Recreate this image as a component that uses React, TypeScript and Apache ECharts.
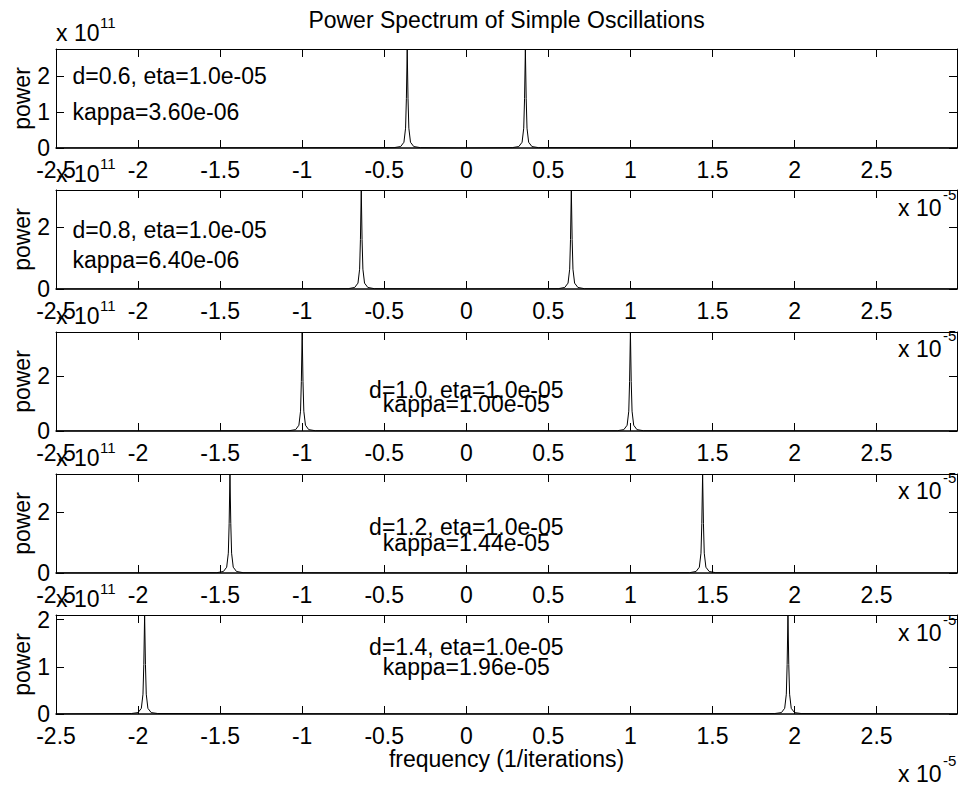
import React, { useEffect, useRef } from 'react';
import * as echarts from 'echarts';

// ---------- text content ----------
const titleText = 'Power Spectrum of Simple Oscillations';
const xLabelText = 'frequency (1/iterations)';
const yLabelText = 'power';
const dLabels = ['0.6', '0.8', '1.0', '1.2', '1.4'];
const etaLabel = '1.0e-05';
const kappaLabels = ['3.60e-06', '6.40e-06', '1.00e-05', '1.44e-05', '1.96e-05'];
const yExponent = '11';
const xExponent = '-5';

// ---------- axes ----------
const xMin = -2.5;
const xMax = 2.99;
const xInterval = 0.5;
const yMaxes = [2.75, 3.2, 3.6, 3.25, 2.1]; // x 1e11
const yIntervals = [1, 2, 2, 2, 1];

// ---------- data (frequency x 1e-5, power x 1e11) ----------
const freq1 = [-2.5, -0.44, -0.40, -0.38, -0.37, -0.365, -0.36, -0.355, -0.35, -0.34, -0.32, -0.28, 0, 0.28, 0.32, 0.34, 0.35, 0.355, 0.36, 0.365, 0.37, 0.38, 0.40, 0.44, 2.99];
const power1 = [0, 0.01, 0.04, 0.16, 0.55, 1.37, 2.75, 1.37, 0.55, 0.16, 0.04, 0.01, 0, 0.01, 0.04, 0.16, 0.55, 1.37, 2.75, 1.37, 0.55, 0.16, 0.04, 0.01, 0];

const freq2 = [-2.5, -0.72, -0.68, -0.66, -0.65, -0.645, -0.64, -0.635, -0.63, -0.62, -0.60, -0.56, 0, 0.56, 0.60, 0.62, 0.63, 0.635, 0.64, 0.645, 0.65, 0.66, 0.68, 0.72, 2.99];
const power2 = [0, 0.01, 0.05, 0.19, 0.64, 1.6, 3.2, 1.6, 0.64, 0.19, 0.05, 0.01, 0, 0.01, 0.05, 0.19, 0.64, 1.6, 3.2, 1.6, 0.64, 0.19, 0.05, 0.01, 0];

const freq3 = [-2.5, -1.08, -1.04, -1.02, -1.01, -1.005, -1.0, -0.995, -0.99, -0.98, -0.96, -0.92, 0, 0.92, 0.96, 0.98, 0.99, 0.995, 1.0, 1.005, 1.01, 1.02, 1.04, 1.08, 2.99];
const power3 = [0, 0.01, 0.05, 0.21, 0.72, 1.8, 3.6, 1.8, 0.72, 0.21, 0.05, 0.01, 0, 0.01, 0.05, 0.21, 0.72, 1.8, 3.6, 1.8, 0.72, 0.21, 0.05, 0.01, 0];

const freq4 = [-2.5, -1.52, -1.48, -1.46, -1.45, -1.445, -1.44, -1.435, -1.43, -1.42, -1.40, -1.36, 0, 1.36, 1.40, 1.42, 1.43, 1.435, 1.44, 1.445, 1.45, 1.46, 1.48, 1.52, 2.99];
const power4 = [0, 0.01, 0.05, 0.19, 0.65, 1.62, 3.25, 1.62, 0.65, 0.19, 0.05, 0.01, 0, 0.01, 0.05, 0.19, 0.65, 1.62, 3.25, 1.62, 0.65, 0.19, 0.05, 0.01, 0];

const freq5 = [-2.5, -2.04, -2.0, -1.98, -1.97, -1.965, -1.96, -1.955, -1.95, -1.94, -1.92, -1.88, 0, 1.88, 1.92, 1.94, 1.95, 1.955, 1.96, 1.965, 1.97, 1.98, 2.0, 2.04, 2.99];
const power5 = [0, 0.01, 0.03, 0.12, 0.42, 1.05, 2.1, 1.05, 0.42, 0.12, 0.03, 0.01, 0, 0.01, 0.03, 0.12, 0.42, 1.05, 2.1, 1.05, 0.42, 0.12, 0.03, 0.01, 0];

const freqs = [freq1, freq2, freq3, freq4, freq5];
const powers = [power1, power2, power3, power4, power5];

// annotation anchor points in data coordinates
const annotX = [-2.4, -2.4, 0, 0, 0];
const annotDY = [2.0, 1.9, 1.5, 1.5, 1.43];
const annotKY = [1.0, 0.94, 1.0, 1.0, 0.99];

// ---------- layout ----------
const FONT = "'Liberation Sans', Arial, Helvetica, sans-serif";
const FS = 23;
const SUP = 15;
const gridLeft = 56;
const gridWidth = 901;
const gridHeight = 99;
const gridTops = [49, 190, 332, 474, 615];

const txt = (x: number, y: number, text: string, size: number, align = 'left', extra: any = {}) => ({
  type: 'text', x, y, silent: true, ...extra,
  style: { text, fill: '#000', fontSize: size, fontFamily: FONT, align, verticalAlign: 'middle' },
});

function buildOption() {
  const grid: any[] = [];
  const xAxis: any[] = [];
  const yAxis: any[] = [];
  const series: any[] = [];
  const graphic: any[] = [];

  const line = { show: true, onZero: false, lineStyle: { color: '#000', width: 1 } };
  const tick = { show: true, inside: true, length: 8, lineStyle: { color: '#000', width: 1 } };

  gridTops.forEach((top, i) => {
    grid.push({ left: gridLeft, top, width: gridWidth, height: gridHeight, containLabel: false, show: false });
    const xBase = {
      type: 'value', gridIndex: i, min: xMin, max: xMax, interval: xInterval,
      splitLine: { show: false }, axisTick: tick, axisLine: line,
    };
    xAxis.push({
      ...xBase, position: 'bottom',
      axisLine: { show: true, onZero: false, lineStyle: { color: '#000', width: 1.5 } },
      axisLabel: { show: true, margin: 10, fontSize: FS, fontFamily: FONT, color: '#000', showMaxLabel: false, showMinLabel: true },
    });
    xAxis.push({ ...xBase, position: 'top', axisLabel: { show: false } });
    const yBase = {
      type: 'value', gridIndex: i, min: 0, max: yMaxes[i], interval: yIntervals[i],
      splitLine: { show: false }, axisTick: tick, axisLine: line,
    };
    yAxis.push({
      ...yBase, position: 'left',
      axisLabel: { show: true, margin: 6, fontSize: FS, fontFamily: FONT, color: '#000', showMaxLabel: false },
    });
    yAxis.push({ ...yBase, position: 'right', axisLabel: { show: false } });

    series.push({
      type: 'line', xAxisIndex: i * 2, yAxisIndex: i * 2,
      data: freqs[i].map((f, k) => [f, powers[i][k]]),
      showSymbol: false, symbol: 'none', silent: true,
      lineStyle: { color: '#000', width: 1 },
      clip: true,
    });

    const mid = top + gridHeight / 2;
    const bottom = top + gridHeight;
    graphic.push(txt(22, mid, yLabelText, FS, 'center', { rotation: Math.PI / 2 }));
    graphic.push(txt(56, top - 16, 'x 10', FS));
    graphic.push(txt(100, top - 27, yExponent, SUP));
    graphic.push(txt(898, bottom + 60, 'x 10', FS));
    graphic.push(txt(943, bottom + 46, xExponent, SUP));
  });

  graphic.push(txt(gridLeft + gridWidth / 2, 20, titleText, FS, 'center'));
  graphic.push(txt(gridLeft + gridWidth / 2, 759, xLabelText, FS, 'center'));

  return {
    animation: false,
    backgroundColor: '#fff',
    grid, xAxis, yAxis, series, graphic,
  };
}

export default function App() {
  const ref = useRef<HTMLDivElement>(null);
  useEffect(() => {
    const chart = echarts.init(ref.current!, null, { renderer: 'svg' });
    const option: any = buildOption();
    chart.setOption(option);
    // annotations placed through each panel's own axes
    const extra: any[] = [];
    gridTops.forEach((_, i) => {
      const finder = { xAxisIndex: i * 2, yAxisIndex: i * 2 };
      const pD = chart.convertToPixel(finder as any, [annotX[i], annotDY[i]]) as number[];
      const pK = chart.convertToPixel(finder as any, [annotX[i], annotKY[i]]) as number[];
      const align = annotX[i] === 0 ? 'center' : 'left';
      extra.push(txt(pD[0], pD[1], `d=${dLabels[i]}, eta=${etaLabel}`, FS, align));
      extra.push(txt(pK[0], pK[1], `kappa=${kappaLabels[i]}`, FS, align));
    });
    chart.setOption({ graphic: [...option.graphic, ...extra] });
    return () => chart.dispose();
  }, []);
  return (
    <div
      ref={ref}
      style={{ position: 'fixed', left: 0, top: 0, width: 965, height: 786, background: '#fff' }}
    />
  );
}
